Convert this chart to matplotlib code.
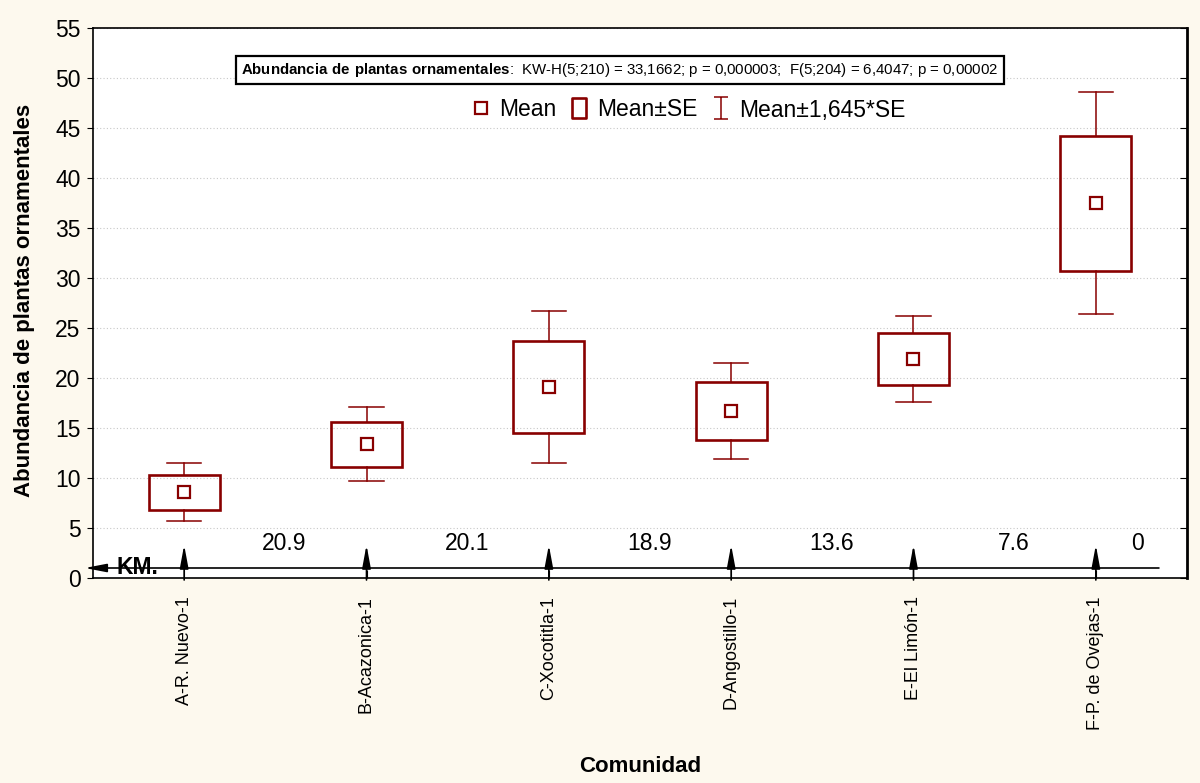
import matplotlib
matplotlib.use("Agg")
import matplotlib.pyplot as plt
from matplotlib.lines import Line2D
from matplotlib.patches import Rectangle
from matplotlib.path import Path

plt.rcParams['font.family'] = ['Liberation Sans', 'DejaVu Sans']
plt.rcParams['mathtext.fontset'] = 'custom'
plt.rcParams['mathtext.rm'] = 'Liberation Sans'
plt.rcParams['mathtext.bf'] = 'Liberation Sans:bold'

# Data: abundance of ornamental plants per community
communities = ["A-R. Nuevo-1", "B-Acazonica-1", "C-Xocotitla-1",
               "D-Angostillo-1", "E-El Limón-1", "F-P. de Ovejas-1"]
means = [8.6, 13.4, 19.1, 16.7, 21.9, 37.5]
se = [1.75, 2.25, 4.6, 2.9, 2.6, 6.75]
z_factor = 1.645
distances_km = ["20.9", "20.1", "18.9", "13.6", "7.6", "0"]
stats_title = "Abundancia de plantas ornamentales"
stats_text = "KW-H(5;210) = 33,1662; p = 0,000003;  F(5;204) = 6,4047; p = 0,00002"

dark_red = "#880000"
bg = "#FDF9EE"

fig = plt.figure(figsize=(12, 7.83), dpi=100, facecolor=bg)
ax = fig.add_axes([93/1200, 1-578/783, (1187-93)/1200, (578-28)/783])
ax.set_facecolor("white")

n = len(communities)
box_w = 0.39
cap_w = 0.19
for i, (m, s) in enumerate(zip(means, se)):
    lo, hi = m - s, m + s
    wlo, whi = m - z_factor * s, m + z_factor * s
    ax.add_patch(Rectangle((i - box_w/2, lo), box_w, hi - lo, facecolor="none",
                           edgecolor=dark_red, lw=1.9, zorder=3))
    ax.plot([i, i], [hi, whi], color=dark_red, lw=1.1, zorder=3)
    ax.plot([i, i], [wlo, lo], color=dark_red, lw=1.1, zorder=3)
    ax.plot([i - cap_w/2, i + cap_w/2], [whi, whi], color=dark_red, lw=1.1, zorder=3)
    ax.plot([i - cap_w/2, i + cap_w/2], [wlo, wlo], color=dark_red, lw=1.1, zorder=3)
ax.plot(range(n), means, ls="none", marker="s", ms=8.5, mfc="white",
        mec=dark_red, mew=1.6, zorder=4)

ax.set_xlim(-0.5, n - 0.5)
ax.set_ylim(0, 55)
ax.set_yticks(range(0, 56, 5))
ax.set_xticks(range(n))
ax.set_xticklabels(communities, rotation=90, fontsize=13)
ax.tick_params(axis="x", direction="in", length=6, pad=13, top=False)
ax.tick_params(axis="y", direction="out", length=4, labelsize=16.5, pad=5)
ax.yaxis.grid(True, color="#c8c8c8", ls=(0, (1, 2)), lw=0.8)
ax.set_axisbelow(True)

for side in ["left", "bottom", "top"]:
    ax.spines[side].set_linewidth(1.2)
ax.spines["right"].set_linewidth(2.0)

ax_r = ax.twinx()
ax_r.set_ylim(0, 55)
ax_r.set_yticks(range(0, 56, 5))
ax_r.tick_params(axis="y", direction="in", length=5, labelright=False)
for sp in ax_r.spines.values():
    sp.set_visible(False)

# Distance (km) axis drawn inside the plot
ax.annotate("", xy=(-0.545, 1.0), xytext=(5.346, 1.0), annotation_clip=False,
            arrowprops=dict(arrowstyle="-|>,head_length=1.3,head_width=0.25",
                            color="black", lw=1.2, shrinkA=0, shrinkB=0))
ax.text(-0.37, 1.0, "KM.", fontsize=16.5, fontweight="bold", va="center", ha="left")
for i in range(n):
    ax.annotate("", xy=(i, 3.3), xytext=(i, -0.2), annotation_clip=False,
                arrowprops=dict(arrowstyle="-|>,head_length=1.4,head_width=0.26",
                                color="black", lw=1.2, shrinkA=0, shrinkB=0))
for i, d in enumerate(distances_km):
    xpos = i + 0.55 if i < n - 1 else i + 0.23
    ax.text(xpos, 3.4, d, fontsize=16.5, ha="center", va="center")

# Statistics box
ax.text(2.39, 50.8, r"$\bf{" + stats_title.replace(" ", r"\ ") + r"}$:  " + stats_text,
        fontsize=10.8, ha="center", va="center",
        bbox=dict(boxstyle="square,pad=0.35", facecolor="white",
                  edgecolor="black", lw=1.6))

# Legend
rect_marker = Path([(-0.33, -0.5), (0.33, -0.5), (0.33, 0.5), (-0.33, 0.5), (-0.33, -0.5)],
                   [Path.MOVETO, Path.LINETO, Path.LINETO, Path.LINETO, Path.CLOSEPOLY])
ibeam_marker = Path([(-0.3, 0.5), (0.3, 0.5), (0, 0.5), (0, -0.5), (-0.3, -0.5), (0.3, -0.5)],
                    [Path.MOVETO, Path.LINETO, Path.MOVETO, Path.LINETO, Path.MOVETO, Path.LINETO])
handles = [
    Line2D([], [], ls="none", marker="s", ms=8.5, mfc="white", mec=dark_red, mew=1.6),
    Line2D([], [], ls="none", marker=rect_marker, ms=15, mfc="white", mec=dark_red, mew=1.9),
    Line2D([], [], ls="none", marker=ibeam_marker, ms=16, mfc="none", mec=dark_red, mew=1.1),
]
ax.legend(handles, ["Mean", "Mean±SE", "Mean±1,645*SE"], ncol=3, frameon=False,
          fontsize=16.5, loc="center", bbox_to_anchor=(2.76, 46.8),
          bbox_transform=ax.transData, handlelength=1.0, handletextpad=0.3,
          columnspacing=0.5)

fig.text(640/1200, 1 - 767/783, "Comunidad", fontsize=16, fontweight="bold",
         ha="center", va="center")
fig.text(25/1200, 1 - 300/783, "Abundancia de plantas ornamentales", fontsize=16,
         fontweight="bold", ha="center", va="center", rotation=90)

fig.savefig("out.png", dpi=100, facecolor=bg)
